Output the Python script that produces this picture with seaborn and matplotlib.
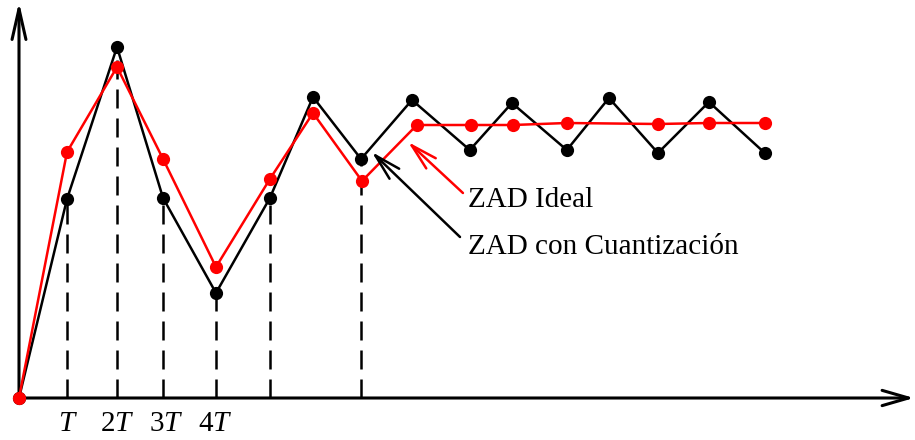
import matplotlib
matplotlib.use("Agg")
import matplotlib.pyplot as plt
import seaborn as sns
import pandas as pd

# Sampled response, time in units of the sampling period T
t_quant = [0, 0.98, 2.0, 2.94, 4.02, 5.12, 6.0, 6.98, 8.02, 9.2, 10.06, 11.18, 12.04, 13.04, 14.08, 15.22]
y_quant = [0, 1.99, 3.51, 2.00, 1.05, 2.00, 3.01, 2.39, 2.98, 2.48, 2.95, 2.48, 3.00, 2.45, 2.96, 2.45]

t_ideal = [0, 0.98, 2.0, 2.94, 4.02, 5.12, 6.0, 7.0, 8.12, 9.22, 10.08, 11.18, 13.04, 14.08, 15.22]
y_ideal = [0, 2.46, 3.31, 2.39, 1.31, 2.19, 2.85, 2.17, 2.73, 2.73, 2.73, 2.75, 2.74, 2.75, 2.75]

# Samples that get a dashed drop line to the time axis
drop_idx = [1, 2, 3, 4, 5, 7]

tick_pos = [1, 2, 3, 4]
tick_labels = [r"$T$", r"$2T$", r"$3T$", r"$4T$"]

label_ideal = "ZAD Ideal"
label_quant = "ZAD con Cuantización"

sns.set_style("white")
plt.rcParams["font.family"] = ["Liberation Serif", "DejaVu Serif"]
plt.rcParams["mathtext.fontset"] = "custom"
plt.rcParams["mathtext.rm"] = "Liberation Serif"
plt.rcParams["mathtext.it"] = "Liberation Serif:italic"
plt.rcParams["text.color"] = "black"
plt.rcParams["xtick.color"] = "black"
plt.rcParams["xtick.labelcolor"] = "black"

W, H = 915, 440
fig = plt.figure(figsize=(W / 100, H / 100), dpi=100)
x0, y0 = 19, 398          # origin in pixels
x1, y1 = 914, 2           # arrow tips
px_per_T, px_per_unit = 49.0, 100.0
ax = fig.add_axes([x0 / W, (H - y0) / H, (x1 - x0) / W, (y0 - y1) / H])
ax.set_xlim(0, (x1 - x0) / px_per_T)
ax.set_ylim(0, (y0 - y1) / px_per_unit)
for s in ax.spines.values():
    s.set_visible(False)
ax.set_facecolor("none")

df_q = pd.DataFrame({"t": t_quant, "y": y_quant})
df_i = pd.DataFrame({"t": t_ideal, "y": y_ideal})

# dashed drop lines
ax.vlines([t_quant[i] for i in drop_idx], 0, [y_quant[i] for i in drop_idx],
          colors="black", linestyles=(0, (7.6, 4.0)), linewidth=1.8, zorder=1)

sns.lineplot(data=df_q, x="t", y="y", ax=ax, color="black", linewidth=1.8,
             marker="o", markersize=9.5, markeredgewidth=0, estimator=None,
             sort=False, zorder=3)
sns.lineplot(data=df_i, x="t", y="y", ax=ax, color="#ff0000", linewidth=1.8,
             marker="o", markersize=9.5, markeredgewidth=0, estimator=None,
             sort=False, zorder=4)
for ln in ax.lines:
    ln.set_clip_on(False)

# axes with arrow heads
ax.annotate("", xy=(1, 0), xytext=(0, 0), xycoords="axes fraction",
            arrowprops=dict(arrowstyle="->,head_length=19,head_width=5.5",
                            mutation_scale=1, lw=2.2, color="black",
                            shrinkA=0, shrinkB=0), zorder=2)
ax.annotate("", xy=(0, 1), xytext=(0, 0), xycoords="axes fraction",
            arrowprops=dict(arrowstyle="->,head_length=22,head_width=5",
                            mutation_scale=1, lw=2.2, color="black",
                            shrinkA=0, shrinkB=0), zorder=2)

ax.set_xticks(tick_pos)
ax.set_xticklabels(tick_labels, fontsize=21, color="black")
ax.set_yticks([])
ax.tick_params(axis="x", length=0, pad=9)
ax.set_xlabel("")
ax.set_ylabel("")

# callouts
ax.annotate("", xy=(7.94, 2.56), xytext=(9.06, 2.05),
            arrowprops=dict(arrowstyle="->,head_length=19,head_width=5",
                            mutation_scale=1, lw=1.8, color="#ff0000",
                            shrinkA=0, shrinkB=0), zorder=5)
ax.annotate("", xy=(7.2, 2.46), xytext=(9.0, 1.61),
            arrowprops=dict(arrowstyle="->,head_length=19,head_width=5",
                            mutation_scale=1, lw=1.8, color="black",
                            shrinkA=0, shrinkB=0), zorder=5)
ax.text(9.16, 1.91, label_ideal, fontsize=21, va="baseline", ha="left", color="black")
ax.text(9.16, 1.44, label_quant, fontsize=21, va="baseline", ha="left", color="black")

fig.savefig("out.png", dpi=100)
